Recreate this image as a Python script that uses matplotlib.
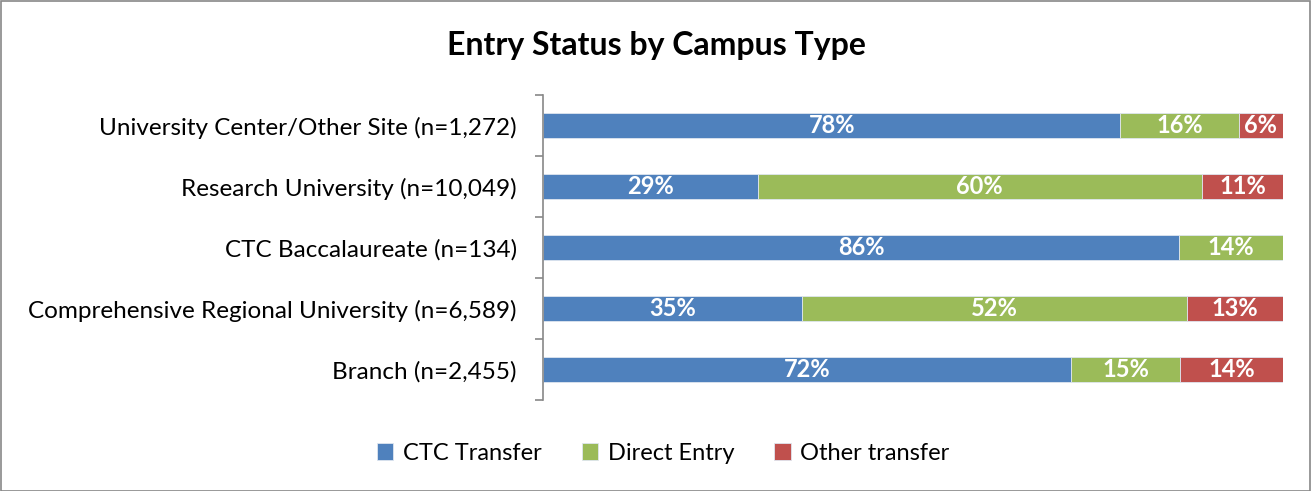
import matplotlib.pyplot as plt
from matplotlib.patches import Rectangle
import numpy as np

plt.rcParams['font.family'] = ['Lato', 'DejaVu Sans']

campuses = ['University Center/Other Site (n=1,272)',
            'Research University (n=10,049)',
            'CTC Baccalaureate (n=134)',
            'Comprehensive Regional University (n=6,589)',
            'Branch (n=2,455)']
ctc_transfer = [78, 29, 86, 35, 72]
direct_entry = [16, 60, 14, 52, 15]
other_transfer = [6, 11, 0, 13, 14]

series = ['CTC Transfer', 'Direct Entry', 'Other transfer']
colours = ['#4F81BD', '#9BBB59', '#C0504D']

data = np.array([ctc_transfer, direct_entry, other_transfer], dtype=float)
share = data / data.sum(axis=0)  # 100% stacked, like the spreadsheet does it

fig = plt.figure(figsize=(13.13, 4.91), dpi=100)
ax = fig.add_axes([0.4136, 0.1853, 0.5636, 0.6212])

y = np.arange(len(campuses))[::-1]
left = np.zeros(len(campuses))
for i, name in enumerate(series):
    bars = ax.barh(y, share[i], left=left, height=0.4, color=colours[i],
                   edgecolor='#dfe6f0', linewidth=0.6, label=name)
    for b, v in zip(bars, data[i]):
        if v > 0:
            ax.text(b.get_x() + b.get_width() / 2, b.get_y() + b.get_height() / 2,
                    '{:.0f}%'.format(v), ha='center', va='center',
                    color='white', fontsize=17, fontweight='bold')
    left += share[i]

ax.set_xlim(0, 1)
ax.set_ylim(-0.5, len(campuses) - 0.5)
ax.set_yticks(y)
ax.set_yticklabels(campuses, fontsize=17.5)
ax.set_yticks(np.arange(len(campuses) + 1) - 0.5, minor=True)
ax.tick_params(axis='y', which='major', length=0, pad=19)
ax.tick_params(axis='y', which='minor', length=6, color='#888888', width=1.2)
ax.set_xticks([])
for s in ['top', 'right', 'bottom']:
    ax.spines[s].set_visible(False)
ax.spines['left'].set_color('#888888')
ax.spines['left'].set_linewidth(1.2)

fig.text(0.5, 0.908, 'Entry Status by Campus Type', ha='center', va='center',
         fontsize=23, fontweight='bold')
fig.legend(loc='center', bbox_to_anchor=(0.505, 0.077), ncol=3, frameon=False,
           fontsize=17, handlelength=0.7, handleheight=0.7, handletextpad=0.4,
           columnspacing=1.7)

fig.patches.append(Rectangle((0.001, 0.001), 0.997, 0.997, transform=fig.transFigure,
                             fill=False, edgecolor='#888888', linewidth=1.2))

fig.savefig('out.png', dpi=100)
